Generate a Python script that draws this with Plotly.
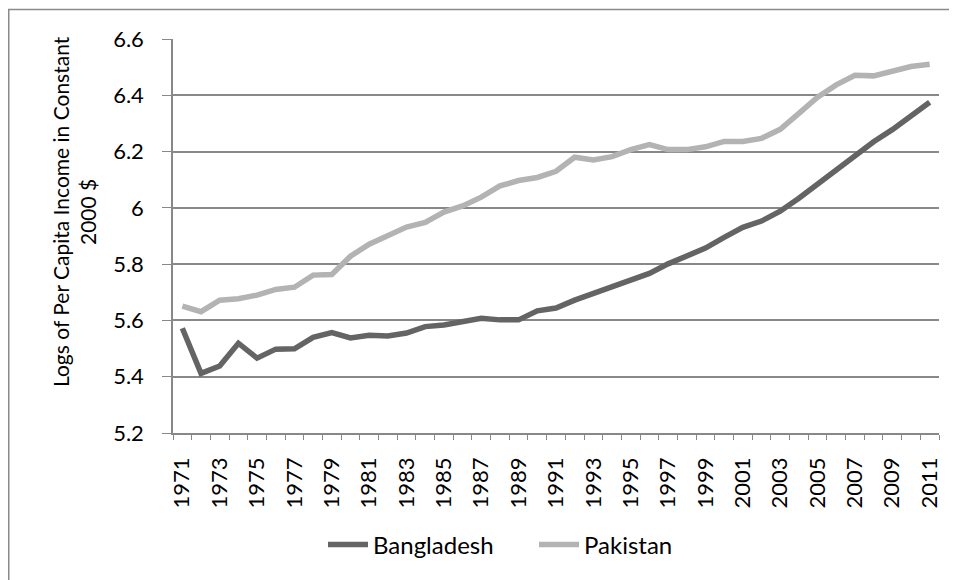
import plotly.graph_objects as go

years = list(range(1971, 2012))

bangladesh = [5.572, 5.412, 5.438, 5.519, 5.466, 5.498, 5.499, 5.540, 5.557, 5.538,
              5.547, 5.545, 5.555, 5.578, 5.584, 5.597, 5.608, 5.602, 5.602, 5.634,
              5.644, 5.672, 5.696, 5.717, 5.743, 5.767, 5.801, 5.830, 5.857, 5.895,
              5.931, 5.953, 5.988, 6.034, 6.084, 6.140, 6.187, 6.235, 6.278, 6.325, 6.375]

pakistan = [5.651, 5.631, 5.672, 5.677, 5.690, 5.710, 5.718, 5.761, 5.763, 5.828,
            5.871, 5.901, 5.932, 5.948, 5.985, 6.007, 6.038, 6.078, 6.097, 6.108,
            6.130, 6.180, 6.170, 6.182, 6.207, 6.225, 6.207, 6.207, 6.217, 6.236,
            6.236, 6.247, 6.279, 6.336, 6.393, 6.437, 6.471, 6.469, 6.488, 6.502, 6.510]

y_ticks = [5.2, 5.4, 5.6, 5.8, 6.0, 6.2, 6.4, 6.6]
y_ticktext = ["5.2", "5.4", "5.6", "5.8", "6", "6.2", "6.4", "6.6"]
x_ticks = list(range(1971, 2012, 2))
x_ticktext = [str(y) for y in x_ticks]

FONT = "Lato, 'Open Sans', sans-serif"
AXIS_GREY = "#888888"

fig = go.Figure()
fig.add_trace(go.Scatter(x=years, y=bangladesh, mode="lines", name="Bangladesh",
                         line=dict(color="#646464", width=5.5)))
fig.add_trace(go.Scatter(x=years, y=pakistan, mode="lines", name="Pakistan",
                         line=dict(color="#b3b3b3", width=5.5)))

# page has an 8px body margin; figure coords = page coords - 8
W, H = 949, 572
L, T = 165, 31
R = W - 931
B = H - 425
pw, ph = W - L - R, H - T - B

fig.update_layout(
    width=W, height=H,
    margin=dict(l=L, r=R, t=T, b=B, pad=0),
    paper_bgcolor="white", plot_bgcolor="white",
    font=dict(family=FONT, size=22, color="#000000"),
    showlegend=True,
    legend=dict(orientation="h", x=(315 - L) / pw, xanchor="left",
                y=-(537 - (T + ph)) / ph, yanchor="middle",
                font=dict(family=FONT, size=24, color="#000000"),
                itemwidth=40, entrywidth=156, tracegroupgap=0,
                bgcolor="rgba(0,0,0,0)"),
    xaxis=dict(range=[1970.5, 2011.5], tickmode="array", tickvals=x_ticks,
               ticktext=x_ticktext, tickangle=-90, ticks="", showgrid=False,
               showline=True, linecolor=AXIS_GREY, linewidth=1.5,
               tickfont=dict(family=FONT, size=22, color="#000000"),
               ticklabelstandoff=14,
               minor=dict(tickmode="linear", tick0=1970.5, dtick=1, ticks="outside",
                          ticklen=5, tickcolor=AXIS_GREY, tickwidth=1, showgrid=False),
               zeroline=False, fixedrange=True),
    yaxis=dict(range=[5.2, 6.6], tickmode="array", tickvals=y_ticks, ticktext=y_ticktext,
               ticks="outside", ticklen=9, tickcolor=AXIS_GREY, tickwidth=1,
               showgrid=True, gridcolor=AXIS_GREY, gridwidth=1.5,
               showline=True, linecolor=AXIS_GREY, linewidth=1.5,
               tickfont=dict(family=FONT, size=22, color="#000000"),
               ticklabelstandoff=14,
               zeroline=False, fixedrange=True),
)

fig.add_annotation(xref="paper", yref="paper", x=(66 - L) / pw, y=1 - (204 - T) / ph,
                   text="Logs of Per Capita Income in Constant<br>2000 $",
                   textangle=-90, showarrow=False, xanchor="center", yanchor="middle",
                   font=dict(family=FONT, size=21, color="#000000"))

fig.add_shape(type="rect", xref="paper", yref="paper",
              x0=(0.75 - L) / pw, x1=(1100 - L) / pw,
              y0=-(700 - (T + ph)) / ph, y1=1 + (T - 1.5) / ph,
              line=dict(color="#8a8a8a", width=1.5), fillcolor="rgba(0,0,0,0)",
              layer="below")

fig.write_html("out.html")
